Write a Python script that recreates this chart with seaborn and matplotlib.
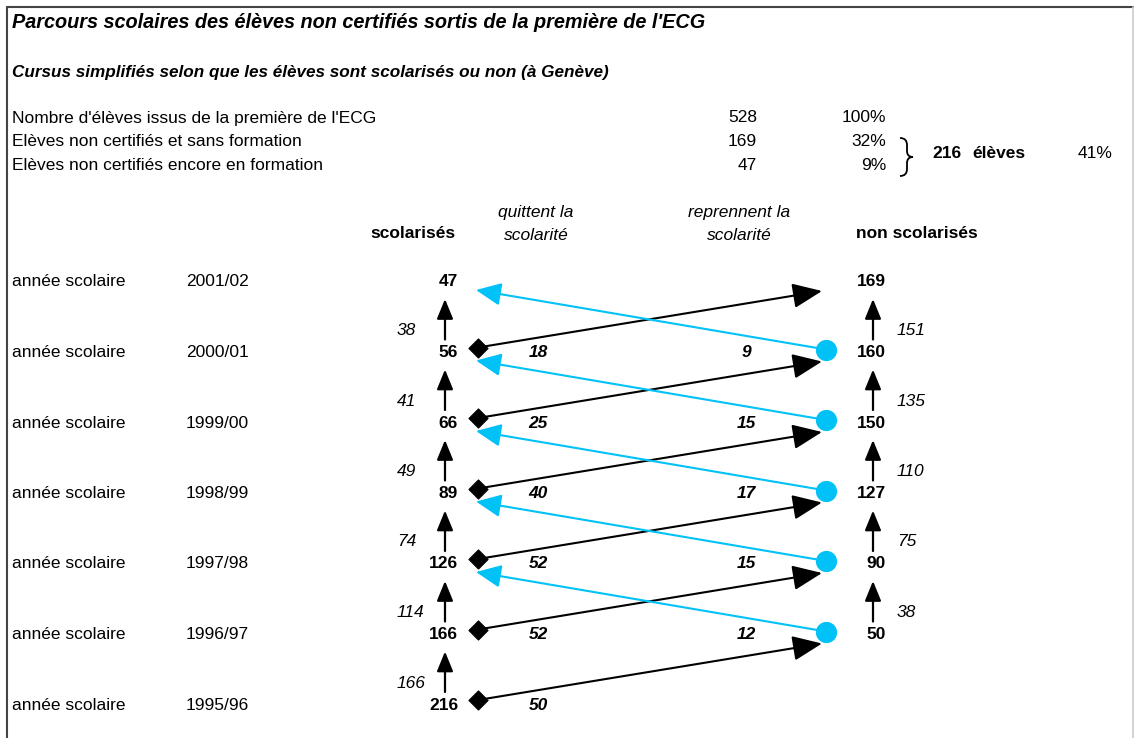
import matplotlib
matplotlib.use("Agg")
import numpy as np
import pandas as pd
import seaborn as sns
import matplotlib.pyplot as plt
from matplotlib.path import Path
from matplotlib.patches import PathPatch

# ------------------------------------------------------------
# 0.  Data
# ------------------------------------------------------------
summary_labels = ["Nombre d'élèves issus de la première de l'ECG",
                  "Elèves non certifiés et sans formation",
                  "Elèves non certifiés encore en formation"]
summary_counts = [528, 169, 47]
summary_pct = ["100%", "32%", "9%"]
total_eleves = 216
total_pct = "41%"

years = ["2001/02", "2000/01", "1999/00", "1998/99", "1997/98", "1996/97", "1995/96"]
scolarises = [47, 56, 66, 89, 126, 166, 216]          # one per year
non_scolarises = [169, 160, 150, 127, 90, 50]         # 2001/02 .. 1996/97
quittent = [18, 25, 40, 52, 52, 50]                   # 2000/01 .. 1995/96
reprennent = [9, 15, 17, 15, 12]                      # 2000/01 .. 1996/97
restent_scol = [38, 41, 49, 74, 114, 166]             # scolarisés kept
restent_non = [151, 135, 110, 75, 38]                 # non scolarisés kept

BLUE = "#00C2F7"
FS = 12.5   # body font size

# ------------------------------------------------------------
# 1.  Canvas (pixel coordinates)
# ------------------------------------------------------------
sns.set_theme(style="white")
plt.rcParams["font.family"] = ["Liberation Sans", "DejaVu Sans"]
plt.rcParams["text.color"] = "black"

fig = plt.figure(figsize=(11.35, 7.38), dpi=100)
ax = fig.add_axes([0, 0, 1, 1])

# frame
ax.plot([7, 7], [7, 738], color="#444444", lw=1.5)
ax.plot([7, 1133], [7, 7], color="#444444", lw=1.5)
ax.plot([1133, 1133], [7, 738], color="#cccccc", lw=1.2)

# ------------------------------------------------------------
# 2.  Header
# ------------------------------------------------------------
ax.text(12, 22, "Parcours scolaires des élèves non certifiés sortis de la première de l'ECG",
        fontsize=14.3, fontweight="bold", fontstyle="italic", va="center")
ax.text(12, 72, "Cursus simplifiés selon que les élèves sont scolarisés ou non (à Genève)",
        fontsize=12.3, fontweight="bold", fontstyle="italic", va="center")

for i, (lab, n, p) in enumerate(zip(summary_labels, summary_counts, summary_pct)):
    y = 118 + i * 23.5
    ax.text(12, y, lab, fontsize=FS, va="center")
    ax.text(757, y, str(n), fontsize=FS, va="center", ha="right")
    ax.text(886, y, p, fontsize=FS, va="center", ha="right")

# brace
verts = [(900, 138), (907, 138), (907, 145), (907, 151), (907, 157), (913, 157),
         (907, 157), (907, 163), (907, 169), (907, 176), (900, 176)]
codes = [Path.MOVETO, Path.CURVE3, Path.CURVE3, Path.LINETO, Path.CURVE3, Path.CURVE3,
         Path.CURVE3, Path.CURVE3, Path.LINETO, Path.CURVE3, Path.CURVE3]
ax.add_patch(PathPatch(Path(verts, codes), fill=False, lw=1.3, color="black"))
ax.text(932, 153, str(total_eleves), fontsize=FS, fontweight="bold", va="center")
ax.text(972, 153, "élèves", fontsize=FS, fontweight="bold", va="center")
ax.text(1113, 153, total_pct, fontsize=FS, va="center", ha="right")

# column headers
ax.text(413, 234, "scolarisés", fontsize=FS, fontweight="bold", ha="center", va="center")
ax.text(917, 234, "non scolarisés", fontsize=FS, fontweight="bold", ha="center", va="center")
ax.text(536, 212, "quittent la", fontsize=FS, fontstyle="italic", ha="center", va="center")
ax.text(536, 235, "scolarité", fontsize=FS, fontstyle="italic", ha="center", va="center")
ax.text(739, 212, "reprennent la", fontsize=FS, fontstyle="italic", ha="center", va="center")
ax.text(739, 235, "scolarité", fontsize=FS, fontstyle="italic", ha="center", va="center")

# ------------------------------------------------------------
# 3.  Flow diagram
# ------------------------------------------------------------
row_y = [282 + i * 70.5 for i in range(len(years))]
XL, XR = 458, 886          # right edge of the number columns
XUL, XUR = 445, 873        # vertical arrows
XD, XC = 478, 826          # diamonds / circles

def arrow(x0, y0, x1, y1, color, lw, ms, hl=1.0, hw=0.4):
    ax.annotate("", xy=(x1, y1), xytext=(x0, y0),
                arrowprops=dict(arrowstyle=f"-|>,head_length={hl},head_width={hw}",
                                color=color, lw=lw, mutation_scale=ms,
                                shrinkA=0, shrinkB=0))

for i, (yr, y) in enumerate(zip(years, row_y)):
    ax.text(12, y, "année scolaire", fontsize=FS, va="center")
    ax.text(186, y, yr, fontsize=FS, va="center")
    ax.text(XL, y, str(scolarises[i]), fontsize=FS, fontweight="bold", ha="right", va="center")
    if i < len(non_scolarises):
        ax.text(XR, y, str(non_scolarises[i]), fontsize=FS, fontweight="bold", ha="right", va="center")

# vertical arrows + italic counts
for i, v in enumerate(restent_scol, start=1):
    arrow(XUL, row_y[i] - 13, XUL, row_y[i - 1] + 17, "black", 1.6, 11, 1.1, 0.45)
    ax.text(397, row_y[i] - 22, str(v), fontsize=FS, fontstyle="italic", va="center")
for i, v in enumerate(restent_non, start=1):
    arrow(XUR, row_y[i] - 13, XUR, row_y[i - 1] + 17, "black", 1.6, 11, 1.1, 0.45)
    ax.text(897, row_y[i] - 22, str(v), fontsize=FS, fontstyle="italic", va="center")

# black: leave school (scolarisé -> non scolarisé next year)
for i, v in enumerate(quittent, start=1):
    arrow(XD, row_y[i] - 5, 822, row_y[i - 1] + 9, "black", 1.5, 14, 1.3, 0.55)
    ax.text(538, row_y[i], str(v), fontsize=FS, fontweight="bold", fontstyle="italic",
            ha="center", va="center")

# blue: back to school (non scolarisé -> scolarisé next year)
for i, v in enumerate(reprennent, start=1):
    arrow(XC, row_y[i] - 3, 476, row_y[i - 1] + 8, BLUE, 1.5, 14, 1.1, 0.5)
    ax.text(746, row_y[i], str(v), fontsize=FS, fontweight="bold", fontstyle="italic",
            ha="center", va="center")

diamonds = pd.DataFrame({"x": [XD] * len(quittent),
                         "y": [row_y[i] - 5 for i in range(1, len(quittent) + 1)]})
circles = pd.DataFrame({"x": [XC] * len(reprennent),
                        "y": [row_y[i] - 3 for i in range(1, len(reprennent) + 1)]})
sns.scatterplot(data=diamonds, x="x", y="y", marker="D", s=95, color="black",
                edgecolor="black", ax=ax, zorder=5)
sns.scatterplot(data=circles, x="x", y="y", marker="o", s=200, color=BLUE,
                edgecolor=BLUE, ax=ax, zorder=5)
ax.set_xlim(0, 1135)
ax.set_ylim(738, 0)
ax.axis("off")

fig.savefig("out.png", dpi=100)
